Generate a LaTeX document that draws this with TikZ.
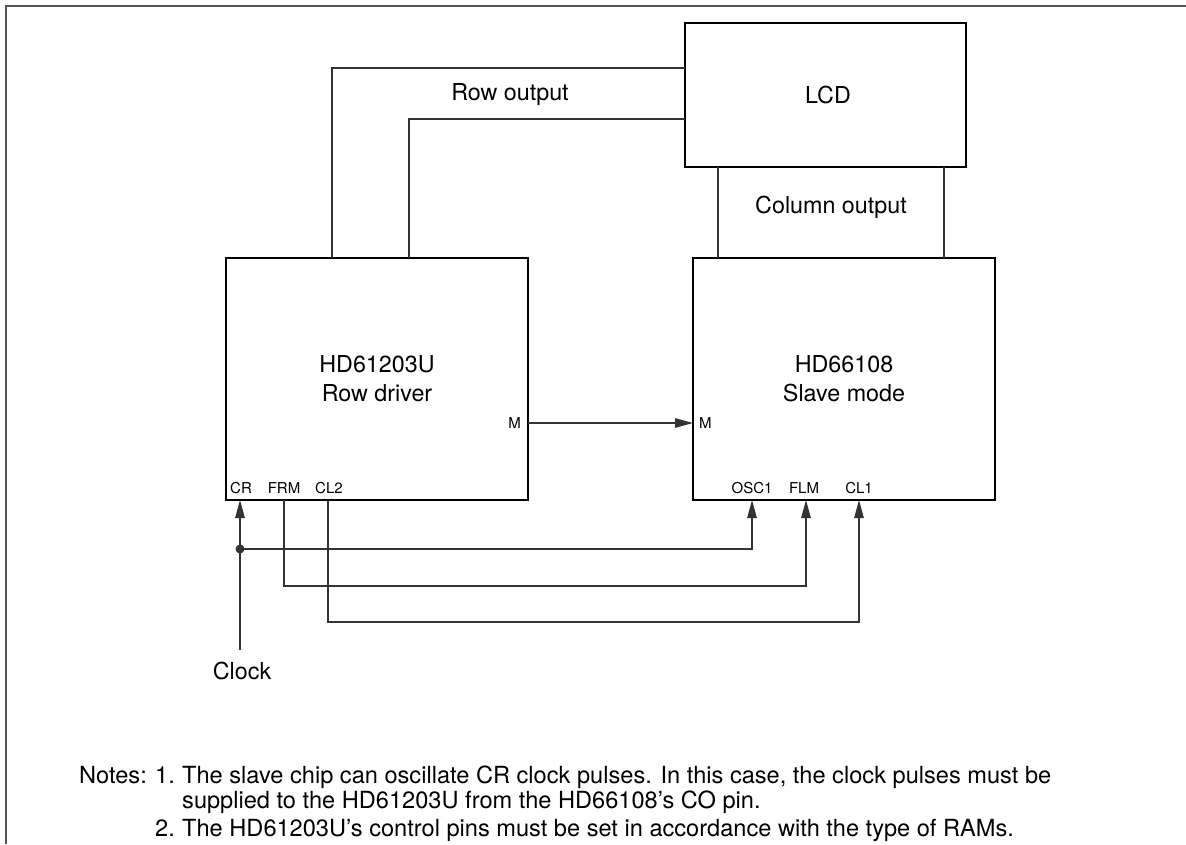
\documentclass[tikz,border=0pt]{standalone}
\usepackage{fontspec}
\setmainfont{TeX Gyre Heros}
\usetikzlibrary{arrows.meta}
\definecolor{wiregray}{HTML}{333333}
\definecolor{framegray}{HTML}{555555}
\tikzset{
  chip/.style={draw=black, line width=1.8pt, inner sep=0pt, outer sep=0pt, align=center,
    font=\fontsize{23.3}{29}\selectfont},
  wire/.style={draw=wiregray, line width=1.2pt},
  arr/.style={wire, -{Triangle[length=18pt,width=9.5pt]}},
  pinlbl/.style={inner sep=0pt, font=\fontsize{15}{18}\selectfont},
  lbl/.style={inner sep=0pt, font=\fontsize{23.3}{28}\selectfont},
  note/.style={inner sep=0pt, font=\fontsize{23.6}{28}\selectfont},
}
\begin{document}
\begin{tikzpicture}[x=1pt,y=-1pt]
\useasboundingbox (0,0) rectangle (1186,844);
\fill[white] (0,0) rectangle (1186,844);
% frame
\draw[framegray, line width=1.8pt] (6,844) -- (6,6) -- (1186,6);

% boxes
\node[chip, minimum width=281pt, minimum height=144pt] (lcd) at (825.5,95) {};
\node[lbl] (lcdt) at (828,95) {LCD};
\node[chip, minimum width=302pt, minimum height=242pt] (rd) at (377,379) {HD61203U\\Row driver};
\node[chip, minimum width=302pt, minimum height=242pt] (sl) at (844,379) {HD66108\\Slave mode};

% anchor points
\coordinate (ro1a) at (332,258);
\coordinate (ro1b) at (685,68);
\coordinate (ro2a) at (409,258);
\coordinate (ro2b) at (685,119);
\coordinate (co1a) at (718,167);
\coordinate (co1b) at (718,258);
\coordinate (co2a) at (944,167);
\coordinate (co2b) at (944,258);
\coordinate (mout) at (528,423);
\coordinate (min) at (693,423);
\coordinate (cr) at (240,500);
\coordinate (frm) at (284,500);
\coordinate (cl2) at (328,500);
\coordinate (osc1) at (752,500);
\coordinate (flm) at (806,500);
\coordinate (cl1) at (859,500);
\coordinate (clk) at (240,650);
\coordinate (dot) at (240,549);

% row / column outputs
\draw[wire] (ro1a) |- (ro1b);
\draw[wire] (ro2a) |- (ro2b);
\draw[wire] (co1a) -- (co1b);
\draw[wire] (co2a) -- (co2b);
\node[lbl] (rowout) at (510,95) {Row output};
\node[lbl] (colout) at (831,207) {Column output};

% M
\draw[arr] (mout) -- (min);
\node[pinlbl, anchor=east] (ml) at (521,423) {M};
\node[pinlbl, anchor=west] (mr) at (699,423) {M};

% pin labels
\node[pinlbl] (crl) at (241,488) {CR};
\node[pinlbl] (frml) at (284,488) {FRM};
\node[pinlbl] (cl2l) at (329,488) {CL2};
\node[pinlbl] (osc1l) at (752,488) {OSC1};
\node[pinlbl] (flml) at (804,488) {FLM};
\node[pinlbl] (cl1l) at (859,488) {CL1};

% clock
\draw[arr] (clk) -- (cr);
\fill[wiregray] (dot) circle (4.5pt);
\draw[arr] (dot) -| (osc1);
\draw[arr] (frm) -- ++(0,86) -| (flm);
\draw[arr] (cl2) -- ++(0,122) -| (cl1);
\node[lbl] (clock) at (242,671) {Clock};

% notes
\node[note, anchor=base west] (n0) at (79,783) {Notes:};
\node[note, anchor=base west] (n1) at (155,783) {1.};
\node[note, anchor=base west] (n1a) at (182,783) {The slave chip can oscillate CR clock pulses. In this case, the clock pulses must be};
\node[note, anchor=base west] (n1b) at (182,808) {supplied to the HD61203U from the HD66108’s CO pin.};
\node[note, anchor=base west] (n2) at (155,836) {2.};
\node[note, anchor=base west] (n2a) at (182,836) {The HD61203U’s control pins must be set in accordance with the type of RAMs.};
\end{tikzpicture}
\end{document}
